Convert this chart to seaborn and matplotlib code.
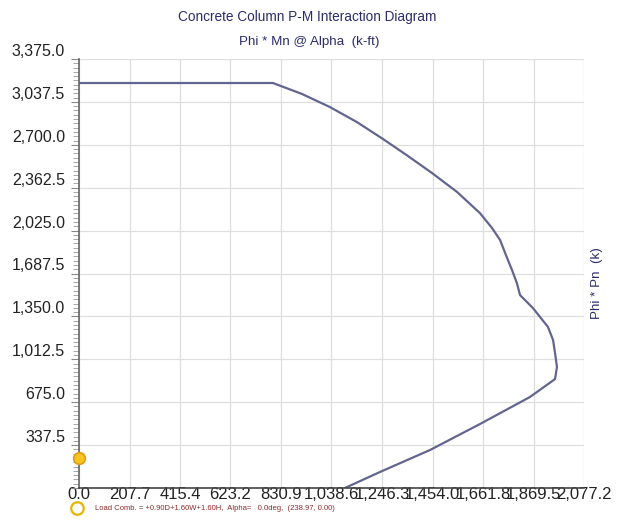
import numpy as np
import pandas as pd
import matplotlib
matplotlib.use("Agg")
import matplotlib.pyplot as plt
import seaborn as sns
from matplotlib.ticker import MultipleLocator, FuncFormatter

# interaction curve: moment (k-ft) and axial (k)
moment = [0.0, 798, 917, 1032, 1143, 1250, 1353, 1452, 1555, 1649, 1699,
          1732, 1756, 1781, 1801, 1814, 1867, 1929, 1950, 1958, 1966, 1958,
          1855, 1649, 1444, 1238, 1094]
axial = [3186, 3186, 3100, 2997, 2879, 2746, 2612, 2478, 2329, 2163, 2045,
         1951, 1833, 1715, 1613, 1518, 1416, 1267, 1164, 1062, 952, 857,
         716, 503, 299, 126, 0.0]

# load combination point
load_m = [0.0]
load_p = [238.97]
load_text = "Load Comb. = +0.90D+1.60W+1.60H,  Alpha=   0.0deg,  (238.97, 0.00)"

x_max = 2077.2
y_max = 3375.0

sns.set_style("white")
plt.rcParams['font.family'] = ['Liberation Sans', 'DejaVu Sans']

df = pd.DataFrame({"M": moment, "P": axial})

fig = plt.figure(figsize=(6.19, 5.2), dpi=100)
ax = fig.add_axes([79 / 619, 1 - 488 / 520, 505 / 619, 429 / 520])

sns.lineplot(data=df, x="M", y="P", sort=False, estimator=None,
             color="#62668f", linewidth=1.6, ax=ax)

ax.scatter(load_m, load_p, s=70, color="#f7c51e", edgecolor="#e39a12",
           linewidth=1.2, zorder=5, clip_on=False)

ax.set_xlim(0, x_max)
ax.set_ylim(0, y_max)
ax.xaxis.set_major_locator(MultipleLocator(x_max / 10))
ax.yaxis.set_major_locator(MultipleLocator(y_max / 10))
ax.yaxis.set_minor_locator(MultipleLocator(y_max / 100))
ax.xaxis.set_major_formatter(FuncFormatter(lambda v, p: f"{v:,.1f}"))
ax.yaxis.set_major_formatter(FuncFormatter(lambda v, p: "" if v == 0 else f"{v:,.1f}"))

ax.grid(True, which="major", color="#dedede", linewidth=0.9)
ax.set_axisbelow(True)

for side in ["top", "right"]:
    ax.spines[side].set_visible(False)
ax.spines["left"].set_color("#666666")
ax.spines["bottom"].set_color("#444444")
ax.spines["left"].set_linewidth(1.2)
ax.spines["bottom"].set_linewidth(1.2)

ax.tick_params(axis="x", length=0, pad=-1, labelsize=12, labelcolor="#222222")
ax.tick_params(axis="y", which="major", length=6, pad=4, labelsize=11.5,
               labelcolor="#222222", left=True, color="#888888")
ax.tick_params(axis="y", which="minor", length=4, left=True, color="#999999")
for t in ax.get_yticklabels():
    t.set_verticalalignment("bottom")

ax.set_xlabel("")
ax.set_ylabel("")

fig.text(0.497, 1 - 17 / 520, "Concrete Column P-M Interaction Diagram",
         ha="center", va="center", fontsize=9.8, color="#2b2c6b")
fig.text(0.5, 1 - 42 / 520, "Phi * Mn @ Alpha  (k-ft)",
         ha="center", va="center", fontsize=9.6, color="#2b2c6b")
fig.text(597 / 619, 1 - 283 / 520, "Phi * Pn  (k)", rotation=90,
         ha="center", va="center", fontsize=9.6, color="#2b2c6b")

# legend entry under the axis
fig.add_artist(plt.Line2D([77 / 619], [1 - 508 / 520], marker="o",
                          markersize=9, markerfacecolor="none",
                          markeredgecolor="#e8b400", markeredgewidth=1.6))
fig.text(95 / 619, 1 - 508 / 520, load_text, ha="left", va="center",
         fontsize=5.5, color="#8b2a2a")

fig.savefig("out.png", dpi=100)
